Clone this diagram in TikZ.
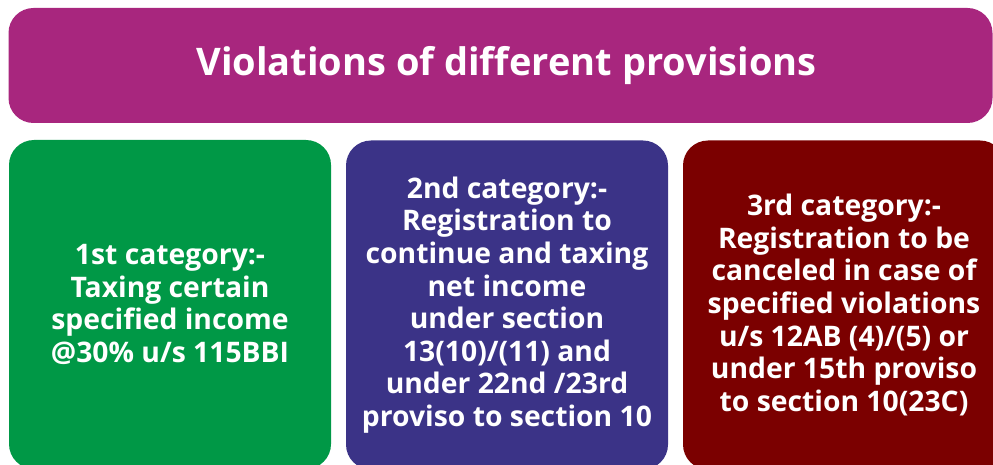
\documentclass[tikz,border=0pt]{standalone}
\usepackage{fontspec}
\setmainfont{Open Sans}
\usepackage{tikz}
\usetikzlibrary{positioning}
\definecolor{plum}{HTML}{A8267E}
\definecolor{leaf}{HTML}{009846}
\definecolor{indigo}{HTML}{3B3387}
\definecolor{maroon}{HTML}{7B0000}

\begin{document}
\begin{tikzpicture}[x=1pt,y=-1pt,
  catbox/.style={rounded corners=25pt,text=white,align=center,inner sep=0pt,
    minimum width=322pt,minimum height=329pt,
    font=\bfseries\fontsize{28.3}{32.6}\selectfont}]
  \useasboundingbox (0,0) rectangle (993,465);
  \clip (0,0) rectangle (993,465);
  \node[rounded corners=25pt,fill=plum,text=white,inner sep=0pt,
    minimum width=984pt,minimum height=115pt,
    font=\bfseries\fontsize{38}{44}\selectfont] (heading) at (500.5,65.5)
    {\hspace*{12pt}Violations of different provisions};
  \node[catbox,fill=leaf] (first) at (170,304.5)
    {1st category:-\\Taxing certain\\specified income\\@30\% u/s 115BBI};
  \node[catbox,fill=indigo] (second) at (507,305)
    {2nd category:-\\Registration to\\continue and taxing\\net income\\under section\\13(10)/(11) and\\under 22nd /23rd\\proviso to section 10};
  \node[catbox,fill=maroon] (third) at (844,305)
    {3rd category:-\\Registration to be\\canceled in case of\\specified violations\\u/s 12AB (4)/(5) or\\under 15th proviso\\to section 10(23C)};
\end{tikzpicture}
\end{document}
